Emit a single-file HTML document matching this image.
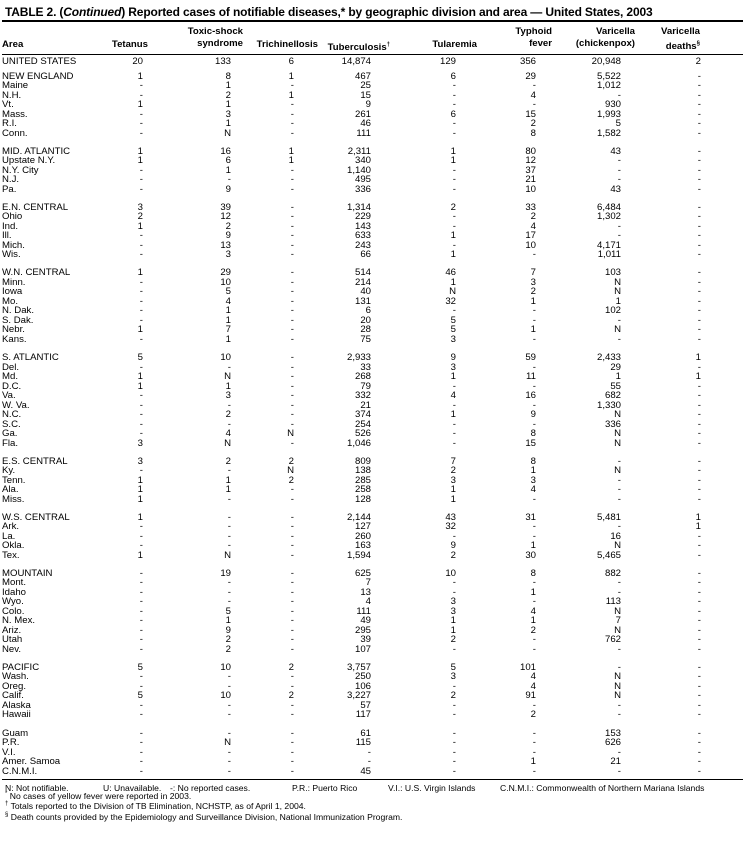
<!DOCTYPE html>
<html><head><meta charset="utf-8">
<style>
*{margin:0;padding:0;box-sizing:border-box}
body{width:745px;height:843px;background:#fff;font-family:"Liberation Sans",Arial,sans-serif;color:#000;position:relative;overflow:hidden}
.title{position:absolute;left:5px;top:5px;font-size:12px;font-weight:bold;white-space:nowrap;letter-spacing:-0.15px}
.hl{position:absolute;left:2px;width:741px;background:#000}
.h{position:absolute;font-size:9.6px;font-weight:bold;line-height:12px;text-align:right;white-space:nowrap}
.body{position:absolute;left:2px;top:57px;width:741px;font-size:9.6px}
.r{display:grid;grid-template-columns:98px 43px 88px 63px 77px 85px 80px 85px 80px;height:9.5px;line-height:9.5px;white-space:nowrap}
.r span{text-align:right}
.r span:first-child{text-align:left}
.g{margin-top:8.6px}
.g2{margin-top:5.2px}
.foot{position:absolute;left:5px;font-size:8.6px;white-space:nowrap}
sup{font-size:6px}
</style></head><body>
<div class="title">TABLE 2. (<i>Continued</i>) Reported cases of notifiable diseases,* by geographic division and area — United States, 2003</div>
<div class="hl" style="top:20px;height:1.5px"></div>
<div class="h" style="left:2px;top:39px;text-align:left">Area</div>
<div class="h" style="right:597px;top:39px">Tetanus</div>
<div class="h" style="right:502px;top:26px">Toxic-shock<br>syndrome</div>
<div class="h" style="right:427px;top:39px">Trichinellosis</div>
<div class="h" style="right:355px;top:39px">Tuberculosis<sup>†</sup></div>
<div class="h" style="right:268px;top:39px">Tularemia</div>
<div class="h" style="right:193px;top:26px">Typhoid<br>fever</div>
<div class="h" style="right:110px;top:26px">Varicella<br>(chickenpox)</div>
<div class="h" style="right:45px;top:26px">Varicella<br>deaths<sup>§</sup></div>
<div class="hl" style="top:54px;height:1px"></div>
<div class="body">
<div class="r"><span>UNITED STATES</span><span>20</span><span>133</span><span>6</span><span>14,874</span><span>129</span><span>356</span><span>20,948</span><span>2</span></div>
<div class="r g2"><span>NEW ENGLAND</span><span>1</span><span>8</span><span>1</span><span>467</span><span>6</span><span>29</span><span>5,522</span><span>-</span></div>
<div class="r"><span>Maine</span><span>-</span><span>1</span><span>-</span><span>25</span><span>-</span><span>-</span><span>1,012</span><span>-</span></div>
<div class="r"><span>N.H.</span><span>-</span><span>2</span><span>1</span><span>15</span><span>-</span><span>4</span><span>-</span><span>-</span></div>
<div class="r"><span>Vt.</span><span>1</span><span>1</span><span>-</span><span>9</span><span>-</span><span>-</span><span>930</span><span>-</span></div>
<div class="r"><span>Mass.</span><span>-</span><span>3</span><span>-</span><span>261</span><span>6</span><span>15</span><span>1,993</span><span>-</span></div>
<div class="r"><span>R.I.</span><span>-</span><span>1</span><span>-</span><span>46</span><span>-</span><span>2</span><span>5</span><span>-</span></div>
<div class="r"><span>Conn.</span><span>-</span><span>N</span><span>-</span><span>111</span><span>-</span><span>8</span><span>1,582</span><span>-</span></div>
<div class="r g"><span>MID. ATLANTIC</span><span>1</span><span>16</span><span>1</span><span>2,311</span><span>1</span><span>80</span><span>43</span><span>-</span></div>
<div class="r"><span>Upstate N.Y.</span><span>1</span><span>6</span><span>1</span><span>340</span><span>1</span><span>12</span><span>-</span><span>-</span></div>
<div class="r"><span>N.Y. City</span><span>-</span><span>1</span><span>-</span><span>1,140</span><span>-</span><span>37</span><span>-</span><span>-</span></div>
<div class="r"><span>N.J.</span><span>-</span><span>-</span><span>-</span><span>495</span><span>-</span><span>21</span><span>-</span><span>-</span></div>
<div class="r"><span>Pa.</span><span>-</span><span>9</span><span>-</span><span>336</span><span>-</span><span>10</span><span>43</span><span>-</span></div>
<div class="r g"><span>E.N. CENTRAL</span><span>3</span><span>39</span><span>-</span><span>1,314</span><span>2</span><span>33</span><span>6,484</span><span>-</span></div>
<div class="r"><span>Ohio</span><span>2</span><span>12</span><span>-</span><span>229</span><span>-</span><span>2</span><span>1,302</span><span>-</span></div>
<div class="r"><span>Ind.</span><span>1</span><span>2</span><span>-</span><span>143</span><span>-</span><span>4</span><span>-</span><span>-</span></div>
<div class="r"><span>Ill.</span><span>-</span><span>9</span><span>-</span><span>633</span><span>1</span><span>17</span><span>-</span><span>-</span></div>
<div class="r"><span>Mich.</span><span>-</span><span>13</span><span>-</span><span>243</span><span>-</span><span>10</span><span>4,171</span><span>-</span></div>
<div class="r"><span>Wis.</span><span>-</span><span>3</span><span>-</span><span>66</span><span>1</span><span>-</span><span>1,011</span><span>-</span></div>
<div class="r g"><span>W.N. CENTRAL</span><span>1</span><span>29</span><span>-</span><span>514</span><span>46</span><span>7</span><span>103</span><span>-</span></div>
<div class="r"><span>Minn.</span><span>-</span><span>10</span><span>-</span><span>214</span><span>1</span><span>3</span><span>N</span><span>-</span></div>
<div class="r"><span>Iowa</span><span>-</span><span>5</span><span>-</span><span>40</span><span>N</span><span>2</span><span>N</span><span>-</span></div>
<div class="r"><span>Mo.</span><span>-</span><span>4</span><span>-</span><span>131</span><span>32</span><span>1</span><span>1</span><span>-</span></div>
<div class="r"><span>N. Dak.</span><span>-</span><span>1</span><span>-</span><span>6</span><span>-</span><span>-</span><span>102</span><span>-</span></div>
<div class="r"><span>S. Dak.</span><span>-</span><span>1</span><span>-</span><span>20</span><span>5</span><span>-</span><span>-</span><span>-</span></div>
<div class="r"><span>Nebr.</span><span>1</span><span>7</span><span>-</span><span>28</span><span>5</span><span>1</span><span>N</span><span>-</span></div>
<div class="r"><span>Kans.</span><span>-</span><span>1</span><span>-</span><span>75</span><span>3</span><span>-</span><span>-</span><span>-</span></div>
<div class="r g"><span>S. ATLANTIC</span><span>5</span><span>10</span><span>-</span><span>2,933</span><span>9</span><span>59</span><span>2,433</span><span>1</span></div>
<div class="r"><span>Del.</span><span>-</span><span>-</span><span>-</span><span>33</span><span>3</span><span>-</span><span>29</span><span>-</span></div>
<div class="r"><span>Md.</span><span>1</span><span>N</span><span>-</span><span>268</span><span>1</span><span>11</span><span>1</span><span>1</span></div>
<div class="r"><span>D.C.</span><span>1</span><span>1</span><span>-</span><span>79</span><span>-</span><span>-</span><span>55</span><span>-</span></div>
<div class="r"><span>Va.</span><span>-</span><span>3</span><span>-</span><span>332</span><span>4</span><span>16</span><span>682</span><span>-</span></div>
<div class="r"><span>W. Va.</span><span>-</span><span>-</span><span>-</span><span>21</span><span>-</span><span>-</span><span>1,330</span><span>-</span></div>
<div class="r"><span>N.C.</span><span>-</span><span>2</span><span>-</span><span>374</span><span>1</span><span>9</span><span>N</span><span>-</span></div>
<div class="r"><span>S.C.</span><span>-</span><span>-</span><span>-</span><span>254</span><span>-</span><span>-</span><span>336</span><span>-</span></div>
<div class="r"><span>Ga.</span><span>-</span><span>4</span><span>N</span><span>526</span><span>-</span><span>8</span><span>N</span><span>-</span></div>
<div class="r"><span>Fla.</span><span>3</span><span>N</span><span>-</span><span>1,046</span><span>-</span><span>15</span><span>N</span><span>-</span></div>
<div class="r g"><span>E.S. CENTRAL</span><span>3</span><span>2</span><span>2</span><span>809</span><span>7</span><span>8</span><span>-</span><span>-</span></div>
<div class="r"><span>Ky.</span><span>-</span><span>-</span><span>N</span><span>138</span><span>2</span><span>1</span><span>N</span><span>-</span></div>
<div class="r"><span>Tenn.</span><span>1</span><span>1</span><span>2</span><span>285</span><span>3</span><span>3</span><span>-</span><span>-</span></div>
<div class="r"><span>Ala.</span><span>1</span><span>1</span><span>-</span><span>258</span><span>1</span><span>4</span><span>-</span><span>-</span></div>
<div class="r"><span>Miss.</span><span>1</span><span>-</span><span>-</span><span>128</span><span>1</span><span>-</span><span>-</span><span>-</span></div>
<div class="r g"><span>W.S. CENTRAL</span><span>1</span><span>-</span><span>-</span><span>2,144</span><span>43</span><span>31</span><span>5,481</span><span>1</span></div>
<div class="r"><span>Ark.</span><span>-</span><span>-</span><span>-</span><span>127</span><span>32</span><span>-</span><span>-</span><span>1</span></div>
<div class="r"><span>La.</span><span>-</span><span>-</span><span>-</span><span>260</span><span>-</span><span>-</span><span>16</span><span>-</span></div>
<div class="r"><span>Okla.</span><span>-</span><span>-</span><span>-</span><span>163</span><span>9</span><span>1</span><span>N</span><span>-</span></div>
<div class="r"><span>Tex.</span><span>1</span><span>N</span><span>-</span><span>1,594</span><span>2</span><span>30</span><span>5,465</span><span>-</span></div>
<div class="r g"><span>MOUNTAIN</span><span>-</span><span>19</span><span>-</span><span>625</span><span>10</span><span>8</span><span>882</span><span>-</span></div>
<div class="r"><span>Mont.</span><span>-</span><span>-</span><span>-</span><span>7</span><span>-</span><span>-</span><span>-</span><span>-</span></div>
<div class="r"><span>Idaho</span><span>-</span><span>-</span><span>-</span><span>13</span><span>-</span><span>1</span><span>-</span><span>-</span></div>
<div class="r"><span>Wyo.</span><span>-</span><span>-</span><span>-</span><span>4</span><span>3</span><span>-</span><span>113</span><span>-</span></div>
<div class="r"><span>Colo.</span><span>-</span><span>5</span><span>-</span><span>111</span><span>3</span><span>4</span><span>N</span><span>-</span></div>
<div class="r"><span>N. Mex.</span><span>-</span><span>1</span><span>-</span><span>49</span><span>1</span><span>1</span><span>7</span><span>-</span></div>
<div class="r"><span>Ariz.</span><span>-</span><span>9</span><span>-</span><span>295</span><span>1</span><span>2</span><span>N</span><span>-</span></div>
<div class="r"><span>Utah</span><span>-</span><span>2</span><span>-</span><span>39</span><span>2</span><span>-</span><span>762</span><span>-</span></div>
<div class="r"><span>Nev.</span><span>-</span><span>2</span><span>-</span><span>107</span><span>-</span><span>-</span><span>-</span><span>-</span></div>
<div class="r g"><span>PACIFIC</span><span>5</span><span>10</span><span>2</span><span>3,757</span><span>5</span><span>101</span><span>-</span><span>-</span></div>
<div class="r"><span>Wash.</span><span>-</span><span>-</span><span>-</span><span>250</span><span>3</span><span>4</span><span>N</span><span>-</span></div>
<div class="r"><span>Oreg.</span><span>-</span><span>-</span><span>-</span><span>106</span><span>-</span><span>4</span><span>N</span><span>-</span></div>
<div class="r"><span>Calif.</span><span>5</span><span>10</span><span>2</span><span>3,227</span><span>2</span><span>91</span><span>N</span><span>-</span></div>
<div class="r"><span>Alaska</span><span>-</span><span>-</span><span>-</span><span>57</span><span>-</span><span>-</span><span>-</span><span>-</span></div>
<div class="r"><span>Hawaii</span><span>-</span><span>-</span><span>-</span><span>117</span><span>-</span><span>2</span><span>-</span><span>-</span></div>
<div class="r g"><span>Guam</span><span>-</span><span>-</span><span>-</span><span>61</span><span>-</span><span>-</span><span>153</span><span>-</span></div>
<div class="r"><span>P.R.</span><span>-</span><span>N</span><span>-</span><span>115</span><span>-</span><span>-</span><span>626</span><span>-</span></div>
<div class="r"><span>V.I.</span><span>-</span><span>-</span><span>-</span><span>-</span><span>-</span><span>-</span><span>-</span><span>-</span></div>
<div class="r"><span>Amer. Samoa</span><span>-</span><span>-</span><span>-</span><span>-</span><span>-</span><span>1</span><span>21</span><span>-</span></div>
<div class="r"><span>C.N.M.I.</span><span>-</span><span>-</span><span>-</span><span>45</span><span>-</span><span>-</span><span>-</span><span>-</span></div>
</div>
<div class="hl" style="top:779px;height:1px"></div>
<div class="foot" style="top:783px">N: Not notifiable.</div>
<div class="foot" style="top:783px;left:103px">U: Unavailable.</div>
<div class="foot" style="top:783px;left:170px">-: No reported cases.</div>
<div class="foot" style="top:783px;left:292px">P.R.: Puerto Rico</div>
<div class="foot" style="top:783px;left:388px">V.I.: U.S. Virgin Islands</div>
<div class="foot" style="top:783px;left:500px">C.N.M.I.: Commonwealth of Northern Mariana Islands</div>
<div class="foot" style="top:791px"><sup>*</sup> No cases of yellow fever were reported in 2003.</div>
<div class="foot" style="top:801px"><sup>†</sup> Totals reported to the Division of TB Elimination, NCHSTP, as of April 1, 2004.</div>
<div class="foot" style="top:812px"><sup>§</sup> Death counts provided by the Epidemiology and Surveillance Division, National Immunization Program.</div>
</body></html>
